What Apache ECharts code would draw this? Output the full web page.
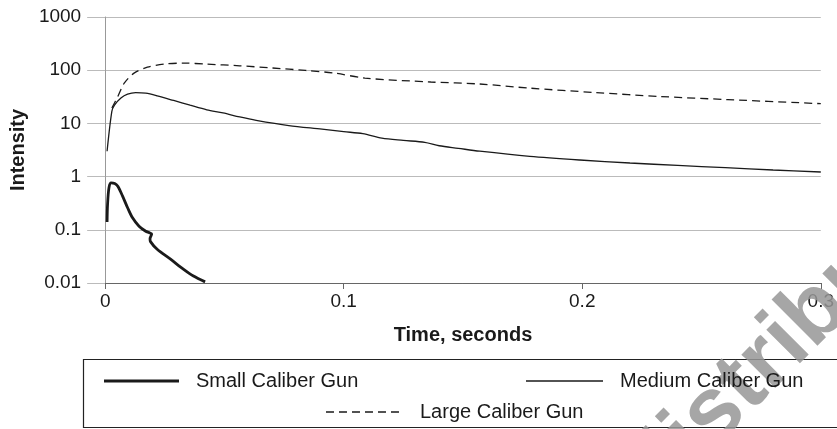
<!DOCTYPE html>
<html>
<head>
<meta charset="utf-8">
<script src="https://cdn.jsdelivr.net/npm/echarts@6/dist/echarts.min.js"></script>
<style>
html,body{margin:0;padding:0;background:#fff;}
#c{width:837px;height:429px;}
</style>
</head>
<body>
<div id="c"></div>
<script>
// ---- data ----
var seriesNames = ['Small Caliber Gun', 'Medium Caliber Gun', 'Large Caliber Gun'];
var xTicks = [0, 0.1, 0.2, 0.3];
var yTicks = [0.01, 0.1, 1, 10, 100, 1000];

var smallT = [0.0008, 0.0010, 0.0016, 0.0025, 0.0040, 0.0053, 0.0073, 0.0094, 0.0114, 0.0142, 0.0170, 0.0185, 0.0195, 0.0188, 0.0190, 0.0218, 0.0274, 0.0329, 0.0370, 0.0419];
var smallI = [0.14, 0.30, 0.62, 0.76, 0.74, 0.66, 0.43, 0.26, 0.17, 0.117, 0.094, 0.088, 0.083, 0.068, 0.060, 0.043, 0.028, 0.018, 0.0135, 0.0105];

var mediumT = [0.0008, 0.0028, 0.0039, 0.0066, 0.0094, 0.0128, 0.0170, 0.0218, 0.0287, 0.0356, 0.0426, 0.0494, 0.0564, 0.0633, 0.0770, 0.0909, 0.1000, 0.1080, 0.1160, 0.1250, 0.1340, 0.1400, 0.1480, 0.1570, 0.1780, 0.1990, 0.2200, 0.2400, 0.2600, 0.2800, 0.3000];
var mediumI = [3.0, 16.8, 22, 30, 35.5, 38, 37, 33, 27, 22, 18, 15.7, 13.2, 11.4, 9.1, 7.8, 7.0, 6.4, 5.3, 4.8, 4.4, 3.8, 3.4, 3.0, 2.4, 2.05, 1.8, 1.62, 1.47, 1.33, 1.22];

var largeT = [0.0028, 0.0053, 0.0080, 0.0121, 0.0177, 0.0246, 0.0329, 0.0426, 0.0564, 0.0702, 0.0840, 0.0964, 0.1089, 0.1365, 0.1570, 0.1780, 0.2055, 0.2330, 0.2610, 0.3000];
var largeI = [19.5, 32, 57, 88, 114, 130, 136, 130, 121, 110, 99, 88, 71, 60, 55, 46, 38, 32, 28, 23.5];

function zip(a, b) { return a.map(function (v, i) { return [v, b[i]]; }); }

var FONT = '"Liberation Sans", Arial, Helvetica, sans-serif';
var chart = echarts.init(document.getElementById('c'), null, {renderer: 'canvas'});

var ICON_THICK = 'path://M0,0L75,0L75,3L0,3Z';
var ICON_THIN = 'path://M0,0L77,0L77,1.3L0,1.3Z';
var ICON_DASH = 'path://M0,0h8v1.3h-8zM13,0h8v1.3h-8zM26,0h8v1.3h-8zM39,0h8v1.3h-8zM52,0h8v1.3h-8zM65,0h8v1.3h-8zM77,0h0.01v1.3h-0.01z';

function legendFor(name, left, top, width, icon, h) {
  return {
    data: [{name: name, icon: icon}],
    left: left, top: top,
    orient: 'horizontal',
    itemWidth: width, itemHeight: h,
    padding: 0,
    selectedMode: false,
    itemStyle: {color: '#1a1a1a', borderWidth: 0},
    textStyle: {fontFamily: FONT, fontSize: 20, color: '#1a1a1a', padding: [0, 0, 0, 12]}
  };
}

var option = {
  animation: false,
  backgroundColor: '#fff',
  grid: {left: 104, right: 8, top: 17, bottom: 146, containLabel: false},
  xAxis: {
    type: 'value', min: xTicks[0], max: xTicks[xTicks.length - 1], interval: 0.1,
    name: 'Time, seconds', nameLocation: 'middle', nameGap: 42,
    nameTextStyle: {fontFamily: FONT, fontSize: 20, fontWeight: 'bold', color: '#1a1a1a'},
    axisLine: {show: true, onZero: false, lineStyle: {color: '#666', width: 1}},
    axisTick: {show: true, length: 6, lineStyle: {color: '#666'}},
    axisLabel: {fontFamily: FONT, fontSize: 19, color: '#1a1a1a', margin: 9,
      formatter: function (v) { var r = Math.round(v * 10) / 10; return xTicks.indexOf(r) >= 0 ? String(r) : ''; }},
    splitLine: {show: false}
  },
  yAxis: {
    type: 'log', logBase: 10, min: yTicks[0], max: yTicks[yTicks.length - 1],
    name: 'Intensity', nameLocation: 'middle', nameGap: 74,
    nameTextStyle: {fontFamily: FONT, fontSize: 20, fontWeight: 'bold', color: '#1a1a1a'},
    axisLine: {show: true, lineStyle: {color: '#999', width: 1}},
    axisTick: {show: true, length: 18, lineStyle: {color: '#bbb'}},
    axisLabel: {fontFamily: FONT, fontSize: 19, color: '#1a1a1a', margin: 24,
      formatter: function (v) { return String(parseFloat(v.toPrecision(3))); }},
    splitLine: {show: true, lineStyle: {color: '#bbb', width: 1}},
    minorTick: {show: false}
  },
  legend: [
    legendFor(seriesNames[0], 104, 371, 75, ICON_THICK, 3),
    legendFor(seriesNames[1], 526, 371, 77, ICON_THIN, 1.3),
    legendFor(seriesNames[2], 326, 402, 77, ICON_DASH, 1.3)
  ],
  graphic: [
    {type: 'rect', z: 0, silent: true,
      shape: {x: 83.5, y: 359.5, width: 800, height: 68},
      style: {fill: 'none', stroke: '#222', lineWidth: 1.2}},
    {type: 'text', z: 1, silent: true, x: 640, y: 488, rotation: 45 * Math.PI / 180,
      style: {text: 'distribute', fontFamily: FONT, fontSize: 90, fontWeight: 'bold',
        fill: 'rgba(150,150,150,0.85)', textAlign: 'left', textVerticalAlign: 'middle'}}
  ],
  series: [
    {name: seriesNames[0], type: 'line', data: zip(smallT, smallI), symbol: 'none', smooth: 0.3,
      lineStyle: {color: '#1a1a1a', width: 2.8}, itemStyle: {color: '#1a1a1a'}, z: 5},
    {name: seriesNames[1], type: 'line', data: zip(mediumT, mediumI), symbol: 'none', smooth: 0.3,
      lineStyle: {color: '#1a1a1a', width: 1.3}, itemStyle: {color: '#1a1a1a'}, z: 5},
    {name: seriesNames[2], type: 'line', data: zip(largeT, largeI), symbol: 'none', smooth: 0.3,
      lineStyle: {color: '#1a1a1a', width: 1.3, type: [8, 5]}, itemStyle: {color: '#1a1a1a'}, z: 5}
  ]
};
chart.setOption(option);
</script>
</body>
</html>
